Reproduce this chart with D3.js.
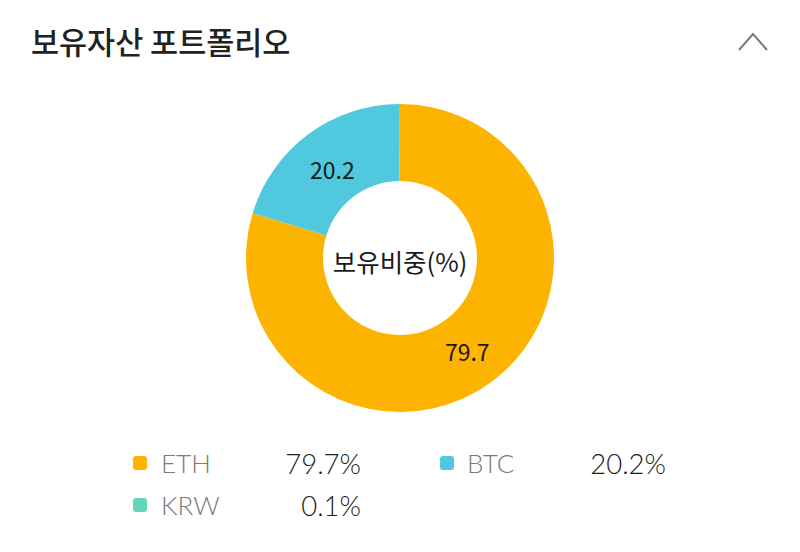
<!DOCTYPE html>
<html><head><meta charset="utf-8">
<script src="https://cdn.jsdelivr.net/npm/d3@7"></script>
<style>
html,body{margin:0;padding:0;background:#fff;}
svg{display:block;font-family:"Noto Sans CJK KR","Noto Sans",sans-serif;}
</style></head>
<body>
<svg id="c" width="800" height="552"></svg>
<script>
const categories = ["ETH", "BTC", "KRW"];
const values = [79.7, 20.2, 0.1];
const colors = ["#FDB400", "#50C8DD", "#63D6B8"];
const titleText = "보유자산 포트폴리오";
const centerText = "보유비중(%)";

const svg = d3.select("#c");
const data = categories.map((c, i) => ({name: c, value: values[i], color: colors[i]}));

// title
svg.append("text").attr("x", 31).attr("y", 54)
  .attr("font-size", 30.5).attr("font-weight", 500).attr("fill", "#222")
  .text(titleText);
// chevron
svg.append("path").attr("d", d3.line()([[739, 50], [753, 34], [767, 50]]))
  .attr("fill", "none").attr("stroke", "#7a7a7a").attr("stroke-width", 2);

// donut
const cx = 400, cy = 258, rOuter = 154, rInner = 77;
const pie = d3.pie().value(d => d.value).sort(null);
const arc = d3.arc().innerRadius(rInner).outerRadius(rOuter);
const g = svg.append("g").attr("transform", `translate(${cx},${cy})`);
const arcs = pie(data);
g.selectAll("path.slice").data(arcs).join("path")
  .attr("class", "slice").attr("d", arc).attr("fill", d => d.data.color);

const labelArc = d3.arc().innerRadius(113).outerRadius(113);
g.selectAll("text.lbl").data(arcs.filter(d => d.data.value >= 1)).join("text")
  .attr("class", "lbl")
  .attr("transform", d => {
    const [x, y] = labelArc.centroid(d);
    return `translate(${x},${y + 2})`;
  })
  .attr("text-anchor", "middle").attr("dominant-baseline", "central")
  .attr("font-size", 23).attr("fill", "#1a1a1a")
  .text(d => d.data.value.toFixed(1));

g.append("text").attr("text-anchor", "middle").attr("dominant-baseline", "central")
  .attr("y", 2).attr("font-size", 25.5).attr("fill", "#1a1a1a").text(centerText);

// legend
const legendPos = [
  {sx: 133, tx: 161, vx: 361, y: 463},
  {sx: 440, tx: 467, vx: 666, y: 463},
  {sx: 133, tx: 161, vx: 361, y: 505}
];
const lg = svg.append("g").selectAll("g").data(data).join("g");
lg.append("rect").attr("x", (d, i) => legendPos[i].sx).attr("y", (d, i) => legendPos[i].y - 7)
  .attr("width", 14).attr("height", 14).attr("rx", 3).attr("fill", d => d.color);
lg.append("text").attr("x", (d, i) => legendPos[i].tx).attr("y", (d, i) => legendPos[i].y)
  .attr("dominant-baseline", "central").attr("font-size", 26).attr("font-weight", 300).attr("fill", "#7a7a7a")
  .attr("font-family", "Lato, 'Noto Sans', sans-serif")
  .text(d => d.name);
lg.append("text").attr("x", (d, i) => legendPos[i].vx).attr("y", (d, i) => legendPos[i].y)
  .attr("dominant-baseline", "central").attr("text-anchor", "end").attr("font-size", 27.5).attr("font-weight", 300).attr("fill", "#1e1e1e")
  .attr("font-family", "Lato, 'Noto Sans', sans-serif")
  .text(d => d.value.toFixed(1) + "%");
</script>
</body></html>
